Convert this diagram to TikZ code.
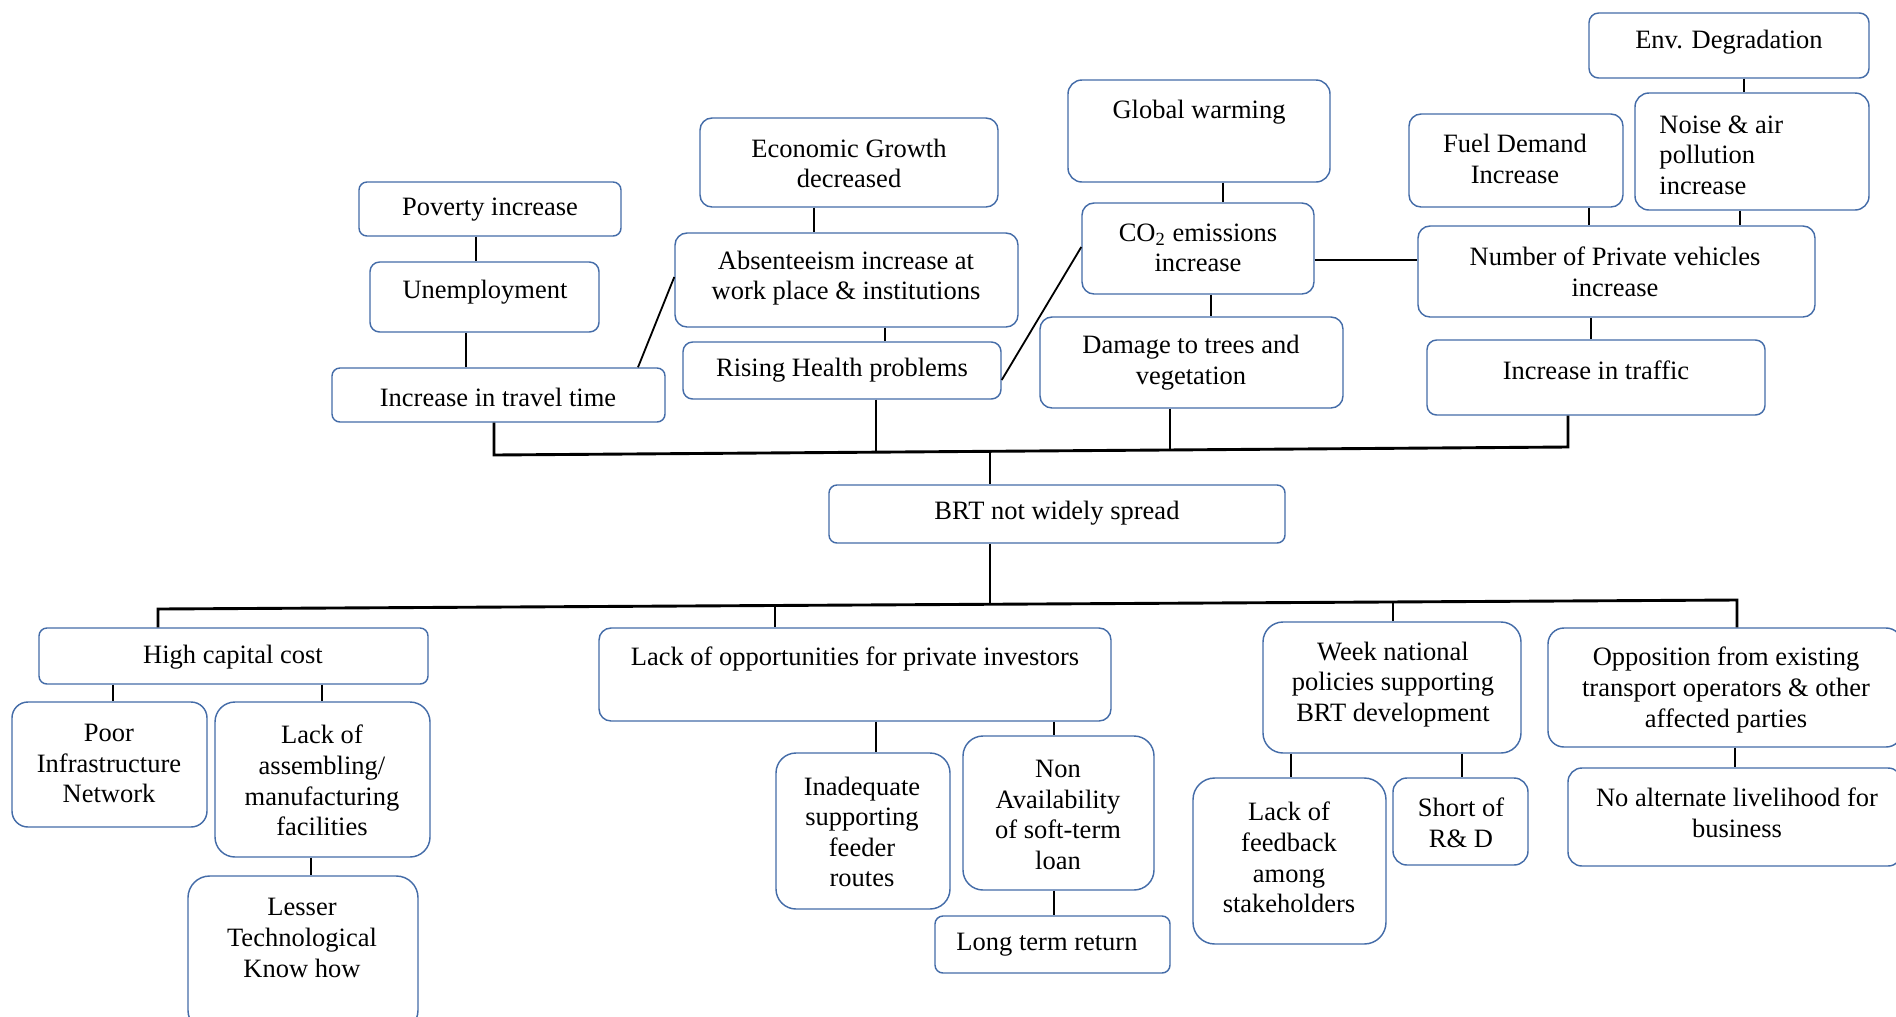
\documentclass[tikz,border=0pt]{standalone}
\usepackage{fontspec}
\setmainfont{Liberation Serif}
\usetikzlibrary{fit}
\definecolor{boxline}{RGB}{68,108,168}
\begin{document}
\begin{tikzpicture}[x=0.415pt,y=-0.415pt,
  box/.style={draw=boxline,line width=0.6pt,inner sep=0pt},
  txt/.style={align=center,font=\fontsize{11}{12.7}\selectfont,inner sep=0pt},
  con/.style={line width=0.75pt,black},
  bus/.style={line width=1.2pt,black}]
\useasboundingbox (0,0) rectangle (1896,1016);
\clip (0,0) rectangle (1896,1016);

% ---------- effects (upper tree) ----------
\node[box,rounded corners=3.3pt,fit={(359,182)(621,236)}] (pov) {};
\node[txt] at (490,210) {Poverty increase};
\node[box,rounded corners=4pt,fit={(370,262)(599,332)}] (unemp) {};
\node[txt] at (485,292) {Unemployment};
\node[box,rounded corners=3.3pt,fit={(332,368)(665,422)}] (travel) {};
\node[txt] at (498,397) {Increase in travel time};

\node[box,rounded corners=5pt,fit={(700,118)(998,207)}] (econ) {};
\node[txt] at (849,163.5) {Economic Growth\\decreased};
\node[box,rounded corners=5pt,fit={(675,233)(1018,327)}] (absent) {};
\node[txt] at (846,278) {Absenteeism increase at\\work place \& institutions};
\node[box,rounded corners=4pt,fit={(683,342)(1001,399)}] (health) {};
\node[txt] at (842,370) {Rising Health problems};

\node[box,rounded corners=5.8pt,fit={(1068,80)(1330,182)}] (global) {};
\node[txt] at (1199,112) {Global warming};
\node[box,rounded corners=5pt,fit={(1082,203)(1314,294)}] (co2) {};
\node[txt] at (1198,248) {CO\textsubscript{2} emissions\\increase};
\node[box,rounded corners=5pt,fit={(1040,317)(1343,408)}] (damage) {};
\node[txt] at (1191,362.5) {Damage to trees and\\vegetation};

\node[box,rounded corners=5pt,fit={(1409,114)(1623,207)}] (fuel) {};
\node[txt] at (1515,159) {Fuel Demand\\Increase};
\node[box,rounded corners=4pt,fit={(1589,13)(1869,78)}] (env) {};
\node[txt] at (1729,42) {Env. Degradation};
\node[box,rounded corners=5.8pt,fit={(1635,93)(1869,210)}] (noise) {};
\node[txt,align=left,anchor=west] at (1659,155) {Noise \& air\\pollution\\increase};
\node[box,rounded corners=5pt,fit={(1418,226)(1815,317)}] (number) {};
\node[txt] at (1615,271.5) {Number of Private vehicles\\increase};
\node[box,rounded corners=4pt,fit={(1427,340)(1765,415)}] (traffic) {};
\node[txt] at (1596,370) {Increase in traffic};

% ---------- core problem ----------
\node[box,rounded corners=3.3pt,fit={(829,485)(1285,543)}] (brt) {};
\node[txt] at (1057,513) {BRT not widely spread};

% ---------- causes (lower tree) ----------
\node[box,rounded corners=3.3pt,fit={(39,628)(428,684)}] (hcc) {};
\node[txt] at (233,657) {High capital cost};
\node[box,rounded corners=6.6pt,fit={(12,702)(207,827)}] (poor) {};
\node[txt] at (109,763.5) {Poor\\Infrastructure\\Network};
\node[box,rounded corners=8.3pt,fit={(215,702)(430,857)}] (lasm) {};
\node[txt] at (322,780.5) {Lack of\\assembling/\\manufacturing\\facilities};
\node[box,rounded corners=9pt,fit={(188,876)(418,1032)}] (lesser) {};
\node[txt] at (302,938) {Lesser\\Technological\\Know how};

\node[box,rounded corners=5pt,fit={(599,628)(1111,721)}] (lop) {};
\node[txt] at (855,659) {Lack of opportunities for private investors};
\node[box,rounded corners=8.3pt,fit={(776,753)(950,909)}] (inadeq) {};
\node[txt] at (862,832) {Inadequate\\supporting\\feeder\\routes};
\node[box,rounded corners=8.3pt,fit={(963,736)(1154,890)}] (nonav) {};
\node[txt] at (1058,815) {Non\\Availability\\of soft-term\\loan};
\node[box,rounded corners=3.3pt,fit={(935,916)(1170,973)}] (longt) {};
\node[txt] at (1047,945) {Long term return};

\node[box,rounded corners=8.3pt,fit={(1263,622)(1521,753)}] (week) {};
\node[txt] at (1393,684.5) {Week national\\policies supporting\\BRT development};
\node[box,rounded corners=9pt,fit={(1193,778)(1386,944)}] (feedb) {};
\node[txt] at (1289,857.5) {Lack of\\feedback\\among\\stakeholders};
\node[box,rounded corners=5.8pt,fit={(1393,778)(1528,865)}] (short) {};
\node[txt] at (1461,822.5) {Short of\\R\& D};

\node[box,rounded corners=6.6pt,fit={(1548,628)(1902,747)}] (oppo) {};
\node[txt] at (1726,690) {Opposition from existing\\transport operators \& other\\affected parties};
\node[box,rounded corners=5.8pt,fit={(1568,768)(1902,866)}] (noalt) {};
\node[txt] at (1737,813) {No alternate livelihood for\\business};

% ---------- links within the upper tree ----------
\draw[con] (476,0 |- pov.south) -- (476,0 |- unemp.north);
\draw[con] (466,0 |- unemp.south) -- (466,0 |- travel.north);
\draw[con] (638,0 |- travel.north) -- (absent.west |- 0,277);
\draw[con] (814,0 |- econ.south) -- (814,0 |- absent.north);
\draw[con] (885,0 |- absent.south) -- (885,0 |- health.north);
\draw[con] (health.east |- 0,380) -- (co2.west |- 0,247);
\draw[con] (1223,0 |- global.south) -- (1223,0 |- co2.north);
\draw[con] (1211,0 |- co2.south) -- (1211,0 |- damage.north);
\draw[con] (co2.east |- 0,260) -- (number.west |- 0,260);
\draw[con] (1589,0 |- fuel.south) -- (1589,0 |- number.north);
\draw[con] (1744,0 |- env.south) -- (1744,0 |- noise.north);
\draw[con] (1740,0 |- noise.south) -- (1740,0 |- number.north);
\draw[con] (1591,0 |- number.south) -- (1591,0 |- traffic.north);

% upper collector line into the core problem
\coordinate (tbL) at (494,455);
\coordinate (tbR) at (1568,447);
\draw[bus] (494,0 |- travel.south) -- (tbL) -- (tbR) -- (1568,0 |- traffic.south);
\draw[con] (876,0 |- health.south) -- (876,452.2);
\draw[con] (1170,0 |- damage.south) -- (1170,450);
\draw[con] (990,451.3) -- (990,0 |- brt.north);

% lower collector line out of the core problem
\coordinate (bbL) at (158,609);
\coordinate (bbR) at (1737,600);
\draw[bus] (158,0 |- hcc.north) -- (bbL) -- (bbR) -- (1737,0 |- oppo.north);
\draw[con] (990,0 |- brt.south) -- (990,604.3);
\draw[con] (775,605.5) -- (775,0 |- lop.north);
\draw[con] (1393,602) -- (1393,0 |- week.north);

% ---------- links within the lower tree ----------
\draw[con] (113,0 |- hcc.south) -- (113,0 |- poor.north);
\draw[con] (322,0 |- hcc.south) -- (322,0 |- lasm.north);
\draw[con] (311,0 |- lasm.south) -- (311,0 |- lesser.north);
\draw[con] (876,0 |- lop.south) -- (876,0 |- inadeq.north);
\draw[con] (1054,0 |- lop.south) -- (1054,0 |- nonav.north);
\draw[con] (1054,0 |- nonav.south) -- (1054,0 |- longt.north);
\draw[con] (1291,0 |- week.south) -- (1291,0 |- feedb.north);
\draw[con] (1462,0 |- week.south) -- (1462,0 |- short.north);
\draw[con] (1735,0 |- oppo.south) -- (1735,0 |- noalt.north);
\end{tikzpicture}
\end{document}
